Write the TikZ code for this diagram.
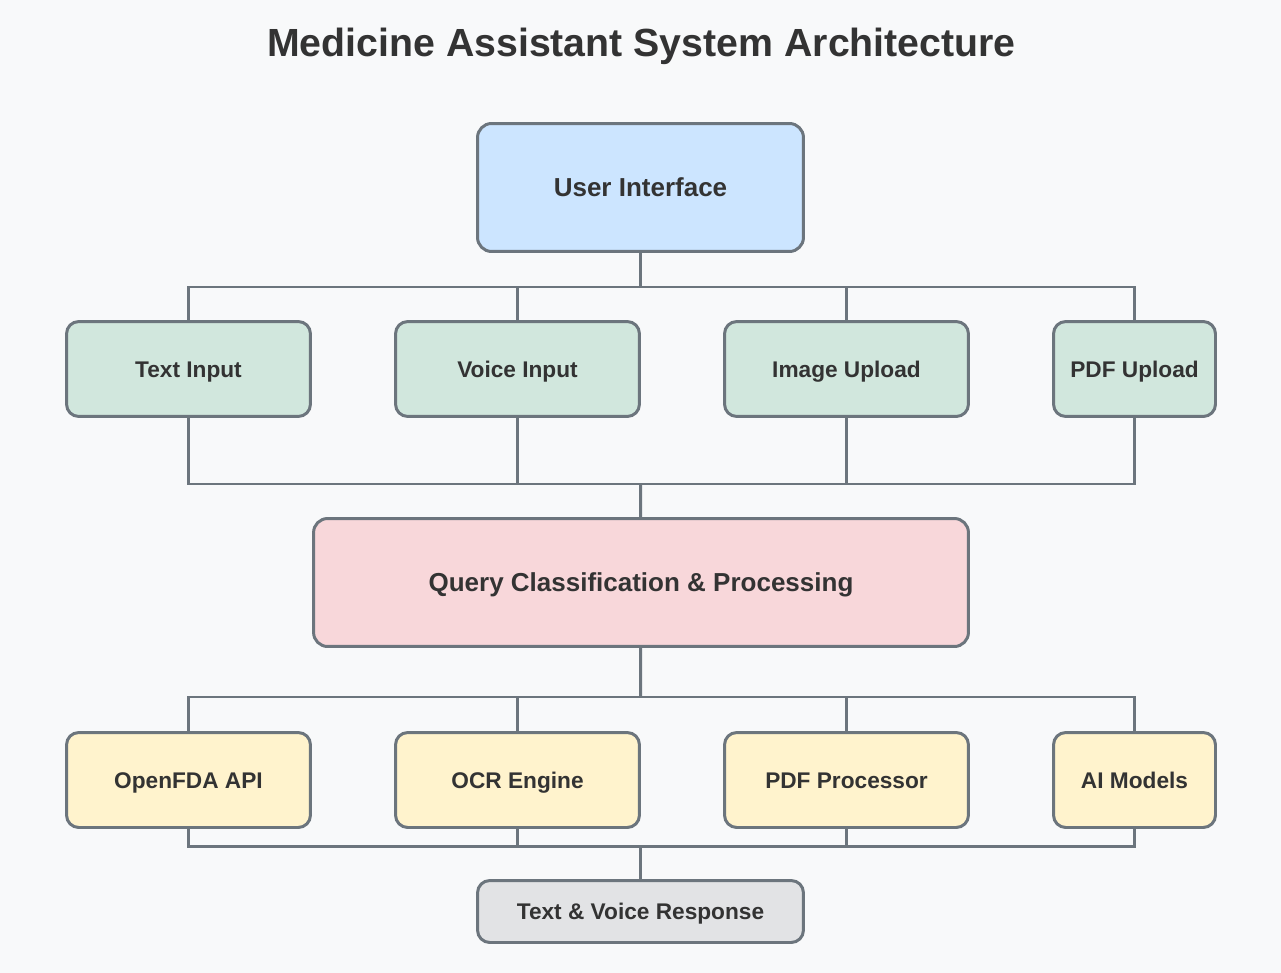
\documentclass[tikz,border=0pt]{standalone}
\usepackage{fontspec}
\setmainfont{Liberation Sans}
\usepackage{xcolor}
\usepackage{tikz}
\usetikzlibrary{calc}

\definecolor{bgcol}{HTML}{F8F9FA}
\definecolor{edgecol}{HTML}{6C757D}
\definecolor{inkcol}{HTML}{333333}
\definecolor{uicol}{HTML}{CCE5FF}
\definecolor{incol}{HTML}{D1E7DD}
\definecolor{qcol}{HTML}{F8D7DA}
\definecolor{srvcol}{HTML}{FFF3CD}
\definecolor{outcol}{HTML}{E2E3E5}

\begin{document}
\begin{tikzpicture}[x=0.02cm, y=-0.02cm,
		box/.style = {draw=edgecol, line width=1.7pt, rounded corners=7pt, text=inkcol, inner sep=0pt, text height=9.24pt, text depth=0pt, font=\bfseries\fontsize{12.9}{15}\selectfont},
		big/.style = {box, rounded corners=8pt, text height=10.6pt, font=\bfseries\fontsize{14.8}{18}\selectfont},
		link/.style = {draw=edgecol, line width=1.7pt}]
		\useasboundingbox[fill=bgcol] (0,0) rectangle (1281,973);
		
		\node[text=inkcol, inner sep=0pt, text height=16pt, text depth=0pt, font=\bfseries\fontsize{22.35}{26}\selectfont] (title) at (641.5,42.5) {Medicine Assistant System Architecture};
		
		% top
		\node[big, fill=uicol, minimum width=6.52cm, minimum height=2.56cm] (ui) at (640.5,187.5) {User Interface};
		
		% inputs
		\node[box, fill=incol, minimum width=4.88cm, minimum height=1.9cm] (txt) at (188.5,369) {Text Input};
		\node[box, fill=incol, minimum width=4.88cm, minimum height=1.9cm] (voice) at (517.5,369) {Voice Input};
		\node[box, fill=incol, minimum width=4.88cm, minimum height=1.9cm] (img) at (846.5,369) {Image Upload};
		\node[box, fill=incol, minimum width=3.24cm, minimum height=1.9cm] (pdf) at (1134.5,369) {PDF Upload};
		
		% processing
		\node[big, fill=qcol, minimum width=13.1cm, minimum height=2.56cm] (query) at (641,582.5) {Query Classification \& Processing};
		
		% services
		\node[box, fill=srvcol, minimum width=4.88cm, minimum height=1.9cm] (api) at (188.5,780) {OpenFDA API};
		\node[box, fill=srvcol, minimum width=4.88cm, minimum height=1.9cm] (ocr) at (517.5,780) {OCR Engine};
		\node[box, fill=srvcol, minimum width=4.88cm, minimum height=1.9cm] (proc) at (846.5,780) {PDF Processor};
		\node[box, fill=srvcol, minimum width=3.24cm, minimum height=1.9cm] (ai) at (1134.5,780) {AI Models};
		
		% output
		\node[box, fill=outcol, minimum width=6.52cm, minimum height=1.24cm] (resp) at (640.5,911.5) {Text \& Voice Response};
		
		% buses
		\path[shape=coordinate]
		(640.5,287) coordinate(busA)
		(640.5,484) coordinate(busB)
		(640.5,697) coordinate(busC)
		(640.5,846) coordinate(busD);
		
		\draw[link] (ui) -- (busA);
		\draw[link] (txt.north) |- (busA) -| (pdf.north);
		\draw[link] (voice.north) -- (voice.north |- busA);
		\draw[link] (img.north) -- (img.north |- busA);
		
		\draw[link] (txt.south) |- (busB) -| (pdf.south);
		\draw[link] (voice.south) -- (voice.south |- busB);
		\draw[link] (img.south) -- (img.south |- busB);
		\draw[link] (busB) -- (query);
		
		\draw[link] (query) -- (busC);
		\draw[link] (api.north) |- (busC) -| (ai.north);
		\draw[link] (ocr.north) -- (ocr.north |- busC);
		\draw[link] (proc.north) -- (proc.north |- busC);
		
		\draw[link] (api.south) |- (busD) -| (ai.south);
		\draw[link] (ocr.south) -- (ocr.south |- busD);
		\draw[link] (proc.south) -- (proc.south |- busD);
		\draw[link] (busD) -- (resp);
	\end{tikzpicture}
\end{document}
